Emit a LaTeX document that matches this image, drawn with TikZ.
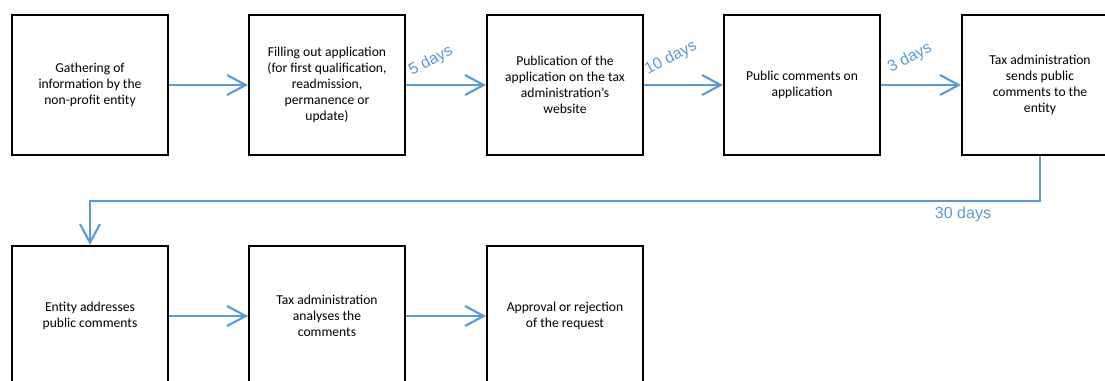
\documentclass[tikz,border=0pt]{standalone}
\usepackage{fontspec}
\setmainfont{Carlito}
\newfontfamily\labfont{Liberation Sans}
\usetikzlibrary{arrows.meta}
\definecolor{flowblue}{HTML}{5B9BD5}
\begin{document}
\begin{tikzpicture}[x=0.75pt,y=-0.75pt,
  box/.style={draw=black,line width=1.6pt,minimum width=156*0.75pt,minimum height=140*0.75pt,
    inner sep=0pt,align=center,font=\fontsize{10.2}{12}\selectfont},
  flow/.style={draw=flowblue,line width=1.6pt,-{Straight Barb[length=14pt,width=15pt,line width=1.6pt]}},
  dlabel/.style={text=flowblue,font=\labfont\fontsize{12}{14}\selectfont,inner sep=0pt},
]
\useasboundingbox (0,0) rectangle (1105,380);
% top row
\node[box] (b1) at (90,85) {Gathering of\\information by the\\non-profit entity};
\node[box] (b2) at (327,85) {Filling out application\\(for first qualification,\\readmission,\\permanence or\\update)};
\node[box] (b3) at (565,85) {Publication of the\\application on the tax\\administration's\\website};
\node[box] (b4) at (802,85) {Public comments on\\application};
\node[box] (b5) at (1040,85) {Tax administration\\sends public\\comments to the\\entity};
% bottom row
\node[box] (c1) at (90,316) {Entity addresses\\public comments};
\node[box] (c2) at (327,316) {Tax administration\\analyses the\\comments};
\node[box] (c3) at (565,316) {Approval or rejection\\of the request};
% connectors
\draw[flow] (b1) -- (b2);
\draw[flow] (b2) -- (b3);
\draw[flow] (b3) -- (b4);
\draw[flow] (b4) -- (b5);
\coordinate (k1) at (1040,201);
\coordinate (k2) at (90,201);
\draw[flow] (b5.south) -- (k1) -- (k2) -- (c1.north);
\draw[flow] (c1) -- (c2);
\draw[flow] (c2) -- (c3);
% labels
\node[dlabel,rotate=28] (l1) at (431,61) {5 days};
\node[dlabel,rotate=28] (l2) at (671,58) {10 days};
\node[dlabel,rotate=28] (l3) at (910,58) {3 days};
\node[dlabel] (l4) at (963,214) {30 days};
\end{tikzpicture}
\end{document}
